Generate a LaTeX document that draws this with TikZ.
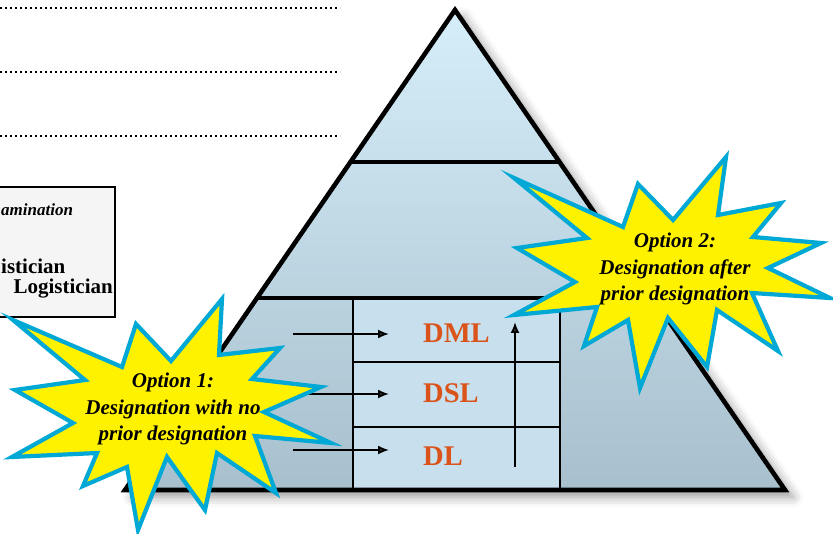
\documentclass[tikz,border=0pt]{standalone}
\usepackage{fontspec}
\setmainfont{Liberation Serif}
\usetikzlibrary{arrows.meta,calc,positioning,shadows.blur}
\definecolor{burstblue}{HTML}{00A8D6}
\definecolor{lvlorange}{HTML}{D9531A}
\definecolor{pyrtop}{HTML}{D6EEFA}
\definecolor{pyrbottom}{HTML}{A8C0CD}
\definecolor{rowfill}{HTML}{C8E0EE}
\definecolor{shadowlilac}{HTML}{7A6EB8}
\tikzset{
  bigline/.style={line width=4.6pt},
  rowline/.style={line width=2.2pt},
  levelarrow/.style={line width=1.8pt,-{Latex[length=11pt,width=9pt]}},
  leveltext/.style={anchor=west,inner sep=0pt,text=lvlorange,font=\fontsize{28.5}{30}\selectfont\bfseries},
  burstshape/.style={draw=burstblue,fill=yellow,line width=4.2pt,line join=miter},
  bursttext/.style={align=center,font=\fontsize{21}{26.5}\selectfont\bfseries\itshape},
  boxtext/.style={inner sep=0pt,font=\fontsize{21}{24}\selectfont\bfseries},
}
\begin{document}
\begin{tikzpicture}[x=1pt,y=-1pt]
  \useasboundingbox (0,0) rectangle (833,534);
  % dotted rules
  \foreach \y in {8,72,136} {
    \draw[line width=1.8pt,dash pattern=on 1.8pt off 3.2pt] (0,\y) -- (340,\y);
  }
  % side box
  \draw[line width=1.8pt,fill=black!4] (-5,187) rectangle (115,317);
  \node[anchor=base west,inner sep=0pt,font=\fontsize{17}{18}\selectfont\bfseries\itshape] (exam) at (1,216) {amination};
  \node[boxtext,anchor=base west] (logi1) at (1,274) {istician};
  \node[boxtext,anchor=base east] (logi2) at (113,294) {Logistician};
  % draw pyramid
  \coordinate (apex) at (455,10);
  \coordinate (bl) at (125,490);
  \coordinate (br) at (785,490);
  \fill[blur shadow={shadow xshift=8pt,shadow yshift=-7pt,shadow blur radius=10pt,shadow opacity=40,fill=shadowlilac},
        top color=pyrtop,bottom color=pyrbottom] (apex) -- (br) -- (bl) -- cycle;
  \coordinate (d1l) at ($(apex)!152/480!(bl)$);
  \coordinate (d1r) at ($(apex)!152/480!(br)$);
  \coordinate (d2l) at ($(apex)!288/480!(bl)$);
  \coordinate (d2r) at ($(apex)!288/480!(br)$);
  % level rows
  \fill[rowfill] (353,298) rectangle (560,490);
  \draw[rowline] (353,298) -- (353,490) (560,298) -- (560,490);
  \foreach \y in {362,427} {
    \draw[rowline] (353,\y) -- (560,\y);
  }
  \draw[bigline] (d1l) -- (d1r) (d2l) -- (d2r);
  \draw[bigline,line join=miter] (apex) -- (br) -- (bl) -- cycle;
  \foreach \name/\t/\y in {dml/DML/333,dsl/DSL/393,dl/DL/456} {
    \node[leveltext] (\name) at (423,\y) {\t};
  }
  % arrows into the rows
  \foreach \name/\y in {dml/334,dsl/394,dl/450} {
    \coordinate (\name-from) at (293,\y);
    \coordinate (\name-to) at (389,\y);
    \draw[levelarrow] (\name-from) -- (\name-to);
  }
  \coordinate (up-from) at (515,467);
  \coordinate (up-to) at (515,322);
  \draw[levelarrow] (up-from) -- (up-to);
  % option 1
  \draw[burstshape] (13,320) -- (122,367) -- (136,324) -- (171,361) -- (222,299) -- (219,355) -- (280,348)
    -- (252,379) -- (321,387) -- (264,412) -- (331,443) -- (255,436) -- (276,493) -- (217,453)
    -- (205,510) -- (167,457) -- (138,530) -- (127,467) -- (83,486) -- (97,453) -- (12,457)
    -- (73,423) -- (15,390) -- (85,380) -- cycle;
  \node[bursttext] (opt1) at (173,409) {Option 1:\\Designation with no\\prior designation};
  % option 2
  \draw[burstshape] (514,178) -- (623,227) -- (638,184) -- (673,220) -- (726,157) -- (718,215) -- (781,203)
    -- (753,237) -- (821,243) -- (768,268) -- (830,298) -- (752,293) -- (778,351) -- (717,310)
    -- (707,367) -- (668,318) -- (640,388) -- (628,320) -- (584,346) -- (597,307) -- (514,315)
    -- (575,282) -- (517,248) -- (587,238) -- cycle;
  \node[bursttext] (opt2) at (675,269) {Option 2:\\Designation after\\prior designation};
\end{tikzpicture}
\end{document}
